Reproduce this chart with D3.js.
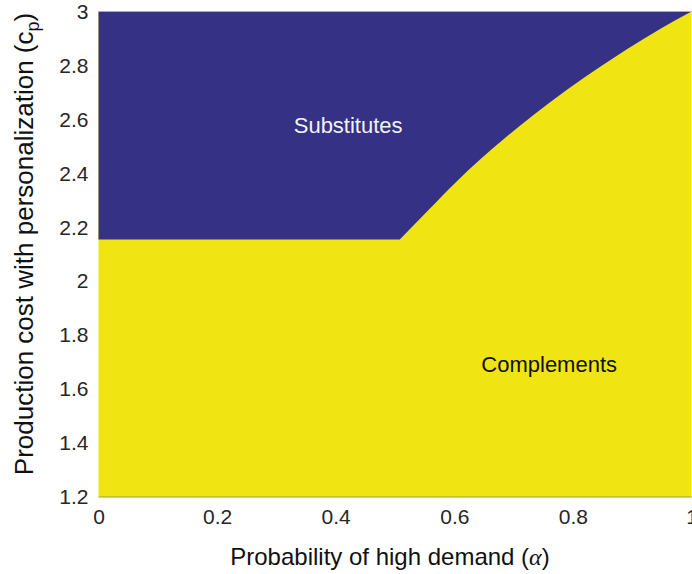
<!DOCTYPE html>
<html><head><meta charset="utf-8">
<script src="https://cdn.jsdelivr.net/npm/d3@7"></script>
<style>body{margin:0;background:#fff;}svg{display:block;}</style>
</head><body>
<svg id="c" width="692" height="574"></svg>
<script>
// boundary between regions (alpha, c_p)
const boundaryAlpha = [0, 0.508, 0.559, 0.604, 0.643, 0.685, 0.733, 0.790, 0.846, 0.891, 0.947, 1.0];
const boundaryCp    = [2.155, 2.155, 2.27, 2.37, 2.45, 2.53, 2.615, 2.71, 2.795, 2.86, 2.935, 3.0];
const xTicks = [0, 0.2, 0.4, 0.6, 0.8, 1];
const xTickLabels = ["0", "0.2", "0.4", "0.6", "0.8", "1"];
const yTicks = [1.2, 1.4, 1.6, 1.8, 2, 2.2, 2.4, 2.6, 2.8, 3];
const yTickLabels = ["1.2", "1.4", "1.6", "1.8", "2", "2.2", "2.4", "2.6", "2.8", "3"];
const regionLabels = [
  {text: "Substitutes", x: 0.421, y: 2.549, color: "#f2f2f2"},
  {text: "Complements", x: 0.760, y: 1.663, color: "#111"}
];

const svg = d3.select("#c");
const L = 98.5, R = 691.5, T = 11.5, B = 497;
const x = d3.scaleLinear().domain([0, 1]).range([L, R]);
const y = d3.scaleLinear().domain([1.2, 3]).range([B, T]);
const font = "'Liberation Sans', Arial, Helvetica, sans-serif";

const flat = boundaryAlpha.slice(0, 2).map((a, i) => [a, boundaryCp[i]]);
const curve = boundaryAlpha.slice(1).map((a, i) => [a, boundaryCp[i + 1]]);

svg.append("rect").attr("x", x(0)).attr("y", y(3)).attr("width", x(1) - x(0)).attr("height", y(1.2) - y(3)).attr("fill", "#f0e513");
const areaFlat = d3.area().x(d => x(d[0])).y0(y(3)).y1(d => y(d[1]));
const areaCurve = d3.area().x(d => x(d[0])).y0(y(3)).y1(d => y(d[1])).curve(d3.curveMonotoneX);
svg.append("path").attr("d", areaFlat(flat) + areaCurve(curve)).attr("fill", "#353184");

// axis lines
svg.append("line").attr("x1", x(0)).attr("x2", x(1)).attr("y1", B).attr("y2", B).attr("stroke", "#9a9a40").attr("stroke-width", 1);
svg.append("line").attr("x1", x(0)).attr("x2", x(1)).attr("y1", T).attr("y2", T).attr("stroke", "#a8a8c8").attr("stroke-width", 1);

const xa = svg.append("g").attr("transform", `translate(0,${B})`)
  .call(d3.axisBottom(x).tickValues(xTicks).tickFormat((d, i) => xTickLabels[i]).tickSize(0).tickPadding(12));
xa.select(".domain").remove();
xa.selectAll("text").attr("font-family", font).attr("font-size", 21).attr("fill", "#262626");

const ya = svg.append("g").attr("transform", `translate(${L},0)`)
  .call(d3.axisLeft(y).tickValues(yTicks).tickFormat((d, i) => yTickLabels[i]).tickSize(0).tickPadding(10));
ya.select(".domain").remove();
ya.selectAll("text").attr("font-family", font).attr("font-size", 21).attr("fill", "#262626");

regionLabels.forEach(r => {
  svg.append("text").attr("x", x(r.x)).attr("y", y(r.y)).attr("text-anchor", "middle")
    .attr("font-family", font).attr("font-size", 22).attr("fill", r.color).text(r.text);
});

// x label
const xl = svg.append("text").attr("x", 390).attr("y", 565).attr("text-anchor", "middle")
  .attr("font-family", font).attr("font-size", 24).attr("fill", "#111");
xl.append("tspan").text("Probability of high demand (");
xl.append("tspan").attr("font-family", "'Liberation Serif', 'Times New Roman', serif").attr("font-style", "italic").text("α");
xl.append("tspan").text(")");

// y label
const yl = svg.append("text").attr("transform", "translate(33,244) rotate(-90)").attr("text-anchor", "middle")
  .attr("font-family", font).attr("font-size", 26).attr("fill", "#111");
yl.append("tspan").text("Production cost with personalization (c");
yl.append("tspan").attr("font-size", 18).attr("dy", 6).text("p");
yl.append("tspan").attr("dy", -6).text(")");
</script>
</body></html>
